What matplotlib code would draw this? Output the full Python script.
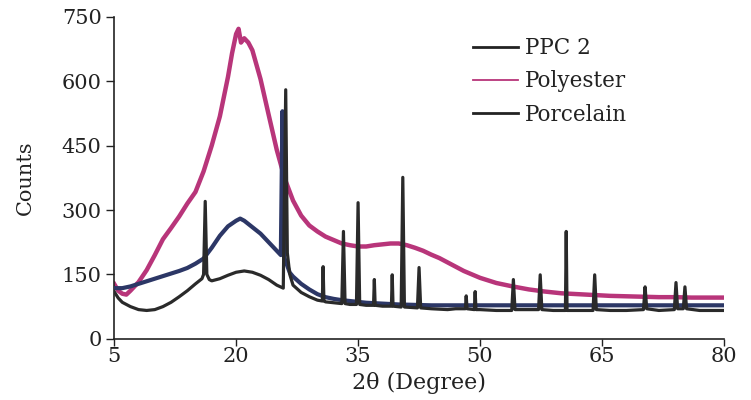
import matplotlib.pyplot as plt

plt.rcParams['font.family'] = ['DejaVu Serif']

# Polyester: broad amorphous hump around 20 deg and a shoulder near 38 deg
poly_x = [5, 5.5, 6, 6.5, 7, 8, 9, 10, 11, 12, 13, 14, 15, 16, 17, 18, 19, 19.5,
          20, 20.3, 20.6, 21, 21.5, 22, 23, 24, 25, 26, 27, 28, 29, 30, 31, 32,
          33, 34, 35, 36, 37, 38, 39, 40, 41, 42, 43, 44, 45, 46, 47, 48, 49, 50,
          52, 54, 56, 58, 60, 62, 64, 66, 68, 70, 72, 74, 76, 78, 80]
poly_y = [128, 112, 105, 103, 112, 132, 160, 195, 232, 258, 285, 315, 342, 390,
          450, 518, 610, 665, 710, 722, 690, 700, 690, 672, 605, 522, 440, 372,
          322, 287, 264, 250, 238, 230, 222, 218, 215, 215, 218, 220, 222, 222,
          218, 212, 205, 196, 188, 178, 168, 158, 150, 142, 130, 122, 115, 110,
          106, 104, 102, 100, 99, 98, 97, 97, 96, 96, 96]

# PPC 2
ppc_x = [5, 6, 7, 8, 9, 10, 11, 12, 13, 14, 15, 16, 17, 18, 19, 20, 20.5, 21, 22,
         23, 24, 25, 25.5, 25.7, 25.9, 26.2, 26.6, 27, 28, 29, 30, 31, 32, 33,
         34, 35, 36, 38, 40, 42, 44, 46, 50, 55, 60, 65, 70, 75, 80]
ppc_y = [118, 118, 122, 128, 134, 140, 146, 152, 158, 165, 175, 187, 212, 240,
         262, 275, 280, 275, 260, 245, 225, 205, 195, 530, 190, 175, 154, 145,
         128, 115, 104, 97, 93, 90, 88, 86, 84, 82, 80, 79, 78, 78, 78, 78, 78,
         78, 78, 78, 78]

# Porcelain: low background with sharp crystalline reflections
porc_x = [5, 5.5, 6, 7, 8, 9, 10, 11, 12, 13, 14, 15, 15.8, 16.0, 16.2, 16.4,
          16.7, 17, 18, 19, 20, 21, 22, 23, 24, 25, 25.8, 26.1, 26.3, 26.6, 27,
          28, 29, 30, 30.6, 30.7, 30.8, 31, 32, 33.0, 33.2, 33.4, 34, 34.8, 35.0,
          35.2, 36, 36.9, 37.0, 37.1, 38, 39.1, 39.2, 39.3, 40.3, 40.5, 40.7,
          42.3, 42.5, 42.7, 44, 46, 47, 48.2, 48.3, 48.4, 49.3, 49.4, 49.5, 50,
          52, 53.9, 54.1, 54.3, 56, 57.2, 57.4, 57.6, 59, 60.5, 60.6, 60.7, 62,
          63.9, 64.1, 64.3, 66, 68, 70.1, 70.3, 70.5, 72, 73.9, 74.1, 74.3, 75.0,
          75.2, 75.4, 77, 80]
porc_y = [110, 95, 85, 75, 68, 66, 68, 75, 85, 98, 112, 128, 140, 150, 320, 150,
          138, 135, 140, 148, 155, 158, 155, 148, 138, 125, 118, 580, 200, 150,
          125, 108, 98, 90, 88, 168, 88, 86, 84, 82, 250, 82, 80, 80, 317, 80, 78,
          78, 138, 78, 76, 76, 149, 76, 74, 376, 74, 72, 166, 72, 70, 68, 70, 70,
          100, 70, 68, 110, 68, 68, 66, 66, 138, 68, 68, 68, 149, 68, 66, 66, 250,
          66, 66, 66, 149, 68, 66, 66, 68, 121, 70, 66, 68, 131, 70, 70, 121, 70,
          66, 66]

x_ticks = [5, 20, 35, 50, 65, 80]
y_ticks = [0, 150, 300, 450, 600, 750]

fig = plt.figure(figsize=(7.51, 4.0), dpi=100)
ax = fig.add_axes([0.152, 0.153, 0.812, 0.805])

ax.plot(poly_x, poly_y, color='#b8357a', lw=3.2, label='Polyester', zorder=2)
ax.plot(ppc_x, ppc_y, color='#2c3766', lw=3.0, label='PPC 2', zorder=3)
ax.plot(porc_x, porc_y, color='#2a2a2a', lw=2.3, label='Porcelain', zorder=4)

ax.set_xlim(5, 80)
ax.set_ylim(0, 750)
ax.set_xticks(x_ticks)
ax.set_yticks(y_ticks)
ax.tick_params(labelsize=15, length=6, width=1, direction='out', pad=3,
               colors='#222222')
ax.tick_params(axis='x', length=5, pad=1)
for side in ['top', 'right']:
    ax.spines[side].set_visible(False)
for side in ['left', 'bottom']:
    ax.spines[side].set_linewidth(1.2)
    ax.spines[side].set_color('#222222')

ax.set_xlabel('2θ (Degree)', fontsize=16, labelpad=4, color='#222222')
ax.set_ylabel('Counts', fontsize=15, labelpad=19, color='#222222')

handles, labels = ax.get_legend_handles_labels()
order = [1, 0, 2]
leg = ax.legend([handles[i] for i in order], [labels[i] for i in order],
                loc='upper left', bbox_to_anchor=(0.571, 0.97), frameon=False,
                fontsize=15.5, handlelength=2.1, handletextpad=0.3,
                labelspacing=0.52, borderpad=0, labelcolor='#222222')
for line, c, w in zip(leg.get_lines(), ['#222222', '#b8357a', '#222222'], [2, 1.3, 2]):
    line.set_color(c)
    line.set_linewidth(w)

fig.savefig('out.png', dpi=100)
